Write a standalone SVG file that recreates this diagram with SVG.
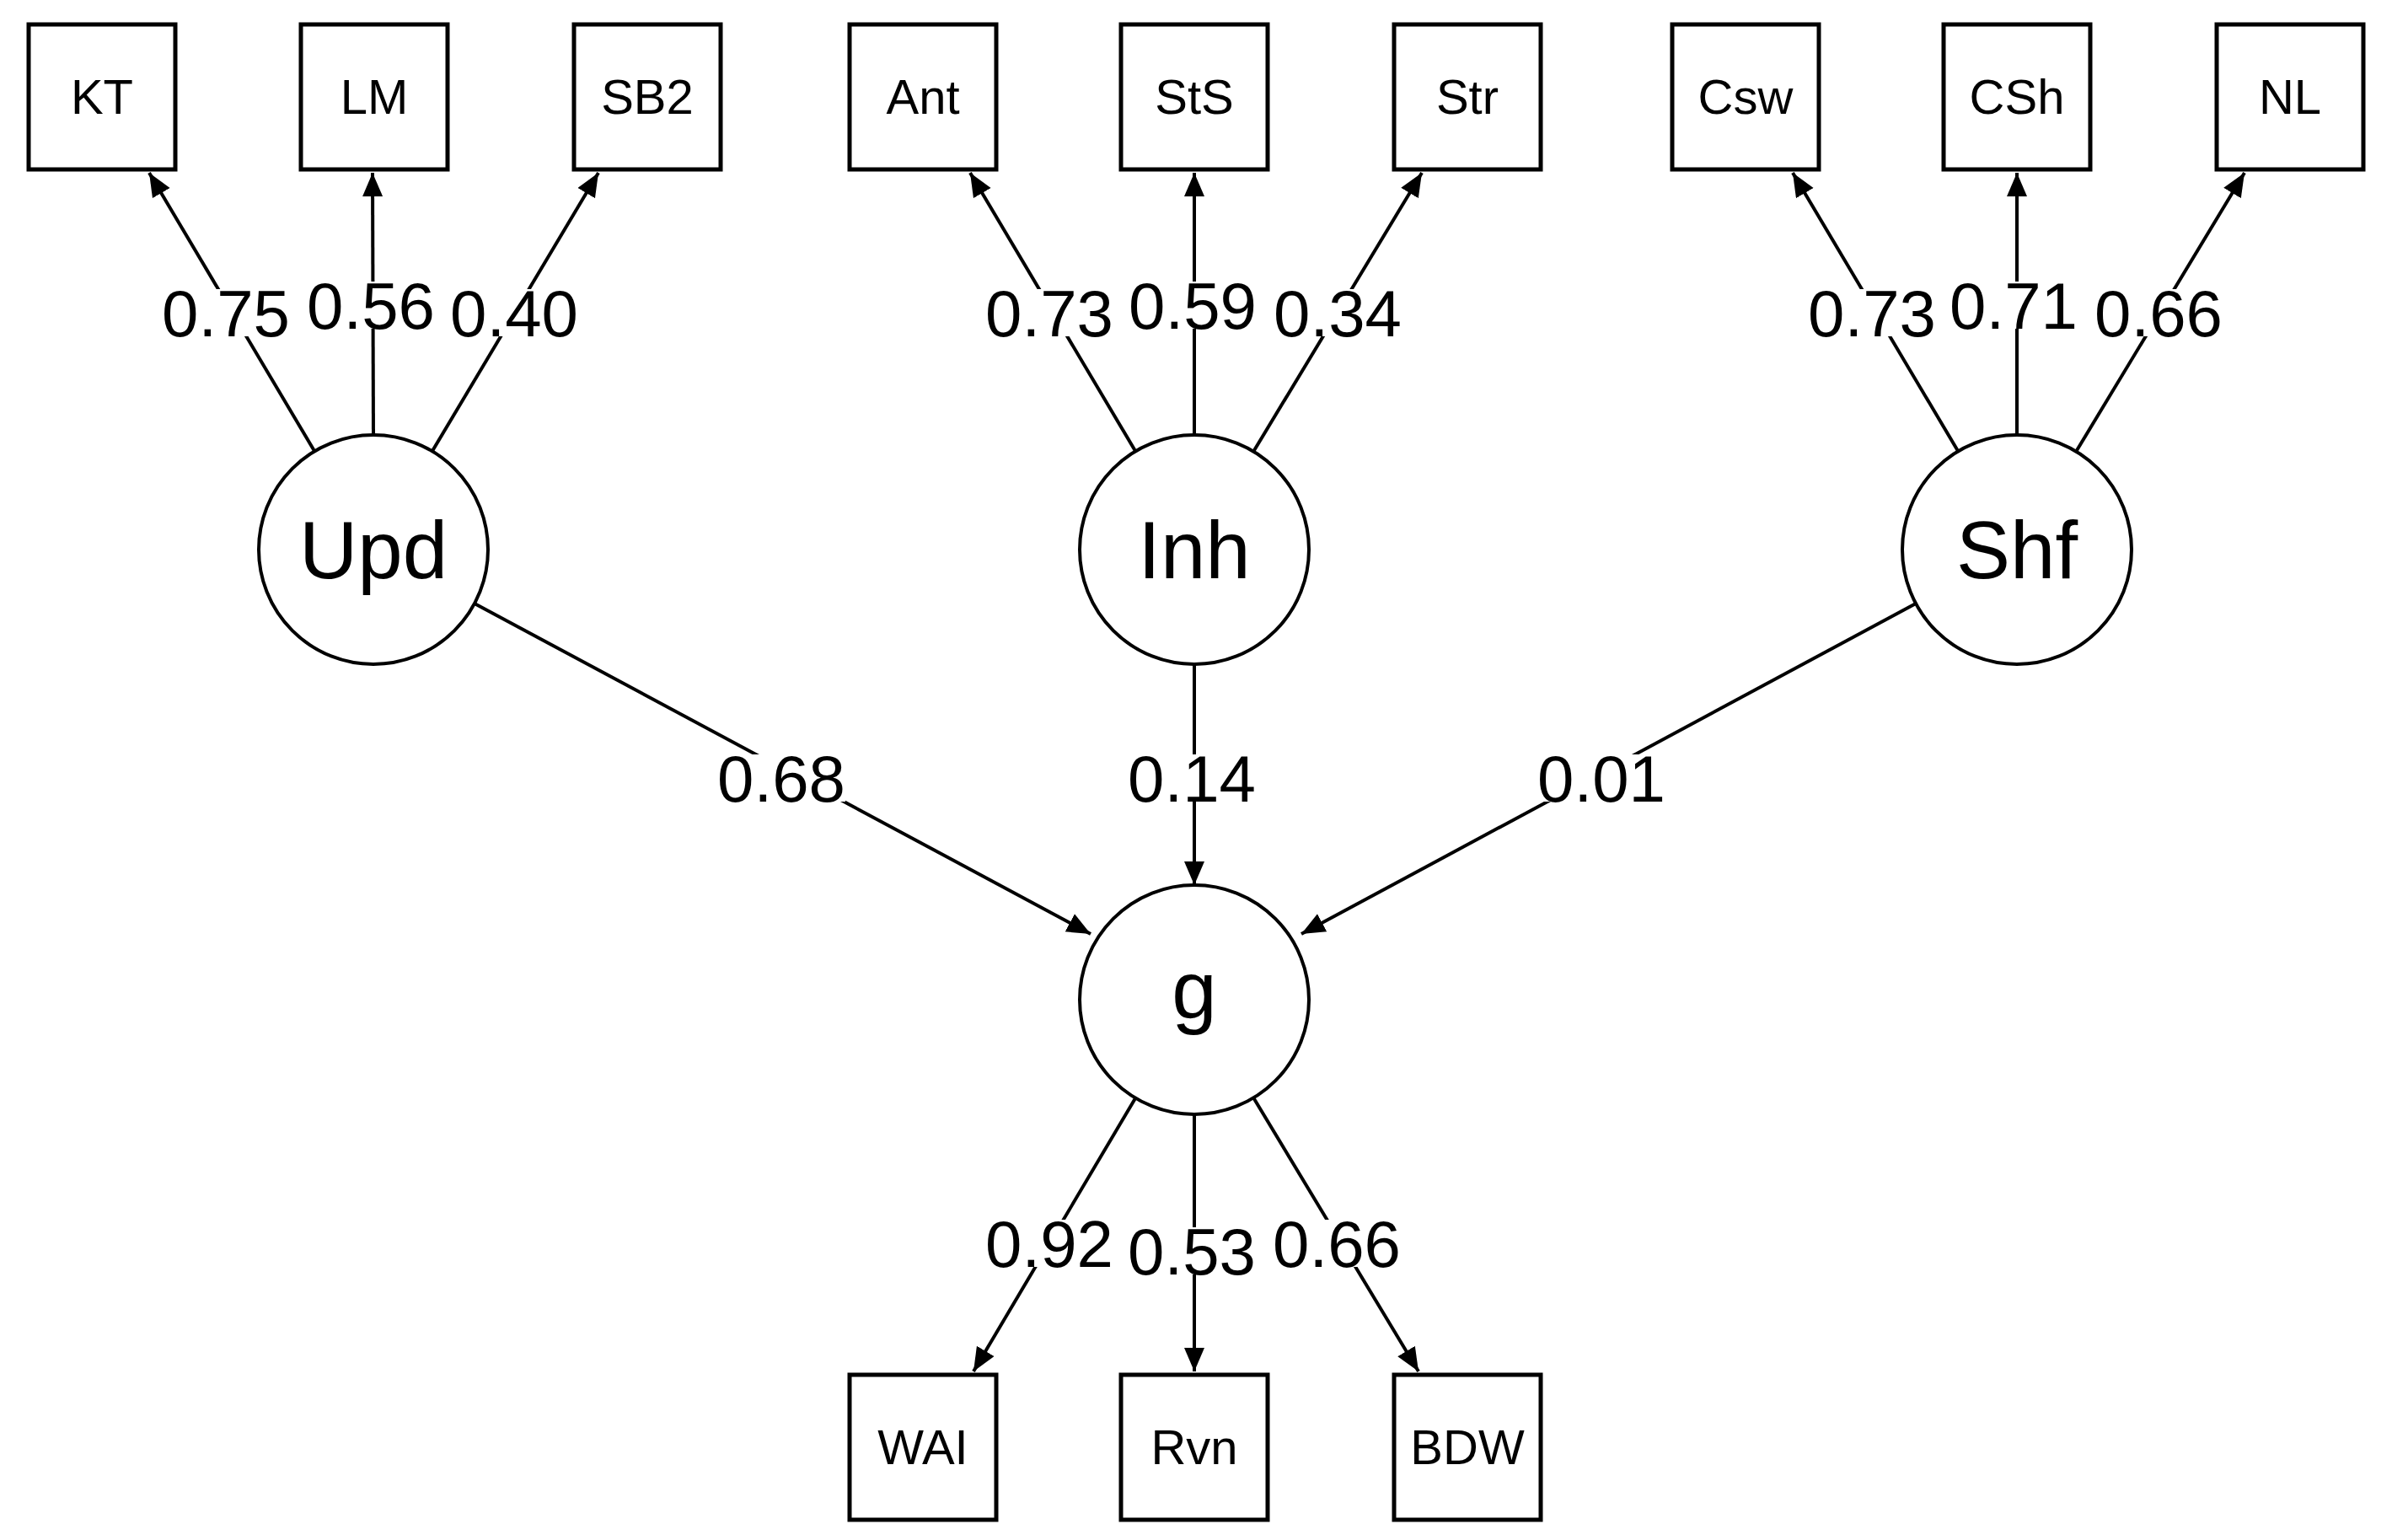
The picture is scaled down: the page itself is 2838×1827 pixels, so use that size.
<svg xmlns="http://www.w3.org/2000/svg" width="2838" height="1827" viewBox="0 0 2838 1827">
<style>
.box{fill:#fff;stroke:#000;stroke-width:5}
.lat{fill:#fff;stroke:#000;stroke-width:4}
.e{stroke:#000;stroke-width:4;fill:none;marker-end:url(#ah)}
.t{font-family:"Liberation Sans",Arial,sans-serif;text-anchor:middle;fill:#000}
.bt{font-size:58px}
.ct{font-size:96px}
.lt{font-size:78px}
.lb{fill:#fff}
</style>
<defs>
<marker id="ah" markerUnits="userSpaceOnUse" markerWidth="30" markerHeight="26" refX="28" refY="12" orient="auto">
<path d="M0,0 L28,12 L0,24 Z" fill="#000"/>
</marker>
</defs>
<rect width="2838" height="1827" fill="#fff"/>
<g id="connectors">
<line class="e" x1="373" y1="535" x2="177" y2="205"/>
<line class="e" x1="443" y1="516" x2="442" y2="205"/>
<line class="e" x1="513" y1="535" x2="710" y2="205"/>
<line class="e" x1="1347" y1="535" x2="1151" y2="205"/>
<line class="e" x1="1417" y1="516" x2="1417" y2="205"/>
<line class="e" x1="1487" y1="536" x2="1687" y2="205"/>
<line class="e" x1="2323" y1="535" x2="2127" y2="205"/>
<line class="e" x1="2393" y1="516" x2="2393" y2="205"/>
<line class="e" x1="2463" y1="536" x2="2663" y2="205"/>
<line class="e" x1="563" y1="716" x2="1294" y2="1108"/>
<line class="e" x1="1417" y1="788" x2="1417" y2="1050"/>
<line class="e" x1="2273" y1="716" x2="1544" y2="1108"/>
<line class="e" x1="1347" y1="1303" x2="1155" y2="1627"/>
<line class="e" x1="1417" y1="1322" x2="1417" y2="1627"/>
<line class="e" x1="1487" y1="1302" x2="1683" y2="1627"/>
<g id="labels">
<rect class="lb" x="192" y="343" width="152" height="56"/><text class="t lt" x="268" y="399">0.75</text>
<rect class="lb" x="364" y="334" width="152" height="56"/><text class="t lt" x="440" y="390">0.56</text>
<rect class="lb" x="534" y="343" width="152" height="56"/><text class="t lt" x="610" y="399">0.40</text>
<rect class="lb" x="1169" y="343" width="152" height="56"/><text class="t lt" x="1245" y="399">0.73</text>
<rect class="lb" x="1339" y="334" width="152" height="56"/><text class="t lt" x="1415" y="390">0.59</text>
<rect class="lb" x="1511" y="343" width="152" height="56"/><text class="t lt" x="1587" y="399">0.34</text>
<rect class="lb" x="2145" y="343" width="152" height="56"/><text class="t lt" x="2221" y="399">0.73</text>
<rect class="lb" x="2313" y="334" width="152" height="56"/><text class="t lt" x="2389" y="390">0.71</text>
<rect class="lb" x="2485" y="343" width="152" height="56"/><text class="t lt" x="2561" y="399">0.66</text>
<rect class="lb" x="851" y="895" width="152" height="56"/><text class="t lt" x="927" y="951">0.68</text>
<rect class="lb" x="1338" y="895" width="152" height="56"/><text class="t lt" x="1414" y="951">0.14</text>
<rect class="lb" x="1824" y="895" width="152" height="56"/><text class="t lt" x="1900" y="951">0.01</text>
<rect class="lb" x="1169" y="1447" width="152" height="56"/><text class="t lt" x="1245" y="1503">0.92</text>
<rect class="lb" x="1338" y="1456" width="152" height="56"/><text class="t lt" x="1414" y="1512">0.53</text>
<rect class="lb" x="1510" y="1447" width="152" height="56"/><text class="t lt" x="1586" y="1503">0.66</text>
</g>
</g>
<g id="KT"><rect class="box" x="34" y="29" width="174" height="172"/><text class="t bt" x="121" y="135">KT</text></g>
<g id="LM"><rect class="box" x="357" y="29" width="174" height="172"/><text class="t bt" x="444" y="135">LM</text></g>
<g id="SB2"><rect class="box" x="681" y="29" width="174" height="172"/><text class="t bt" x="768" y="135">SB2</text></g>
<g id="Ant"><rect class="box" x="1008" y="29" width="174" height="172"/><text class="t bt" x="1095" y="135">Ant</text></g>
<g id="StS"><rect class="box" x="1330" y="29" width="174" height="172"/><text class="t bt" x="1417" y="135">StS</text></g>
<g id="Str"><rect class="box" x="1654" y="29" width="174" height="172"/><text class="t bt" x="1741" y="135">Str</text></g>
<g id="Csw"><rect class="box" x="1984" y="29" width="174" height="172"/><text class="t bt" x="2071" y="135">Csw</text></g>
<g id="CSh"><rect class="box" x="2306" y="29" width="174" height="172"/><text class="t bt" x="2393" y="135">CSh</text></g>
<g id="NL"><rect class="box" x="2630" y="29" width="174" height="172"/><text class="t bt" x="2717" y="135">NL</text></g>
<g id="WAI"><rect class="box" x="1008" y="1631" width="174" height="172"/><text class="t bt" x="1095" y="1737">WAI</text></g>
<g id="Rvn"><rect class="box" x="1330" y="1631" width="174" height="172"/><text class="t bt" x="1417" y="1737">Rvn</text></g>
<g id="BDW"><rect class="box" x="1654" y="1631" width="174" height="172"/><text class="t bt" x="1741" y="1737">BDW</text></g>
<g id="Upd"><circle class="lat" cx="443" cy="652" r="136"/><text class="t ct" x="443" y="686">Upd</text></g>
<g id="Inh"><circle class="lat" cx="1417" cy="652" r="136"/><text class="t ct" x="1417" y="686">Inh</text></g>
<g id="Shf"><circle class="lat" cx="2393" cy="652" r="136"/><text class="t ct" x="2393" y="686">Shf</text></g>
<g id="g"><circle class="lat" cx="1417" cy="1186" r="136"/><text class="t ct" x="1417" y="1208">g</text></g>
</svg>
